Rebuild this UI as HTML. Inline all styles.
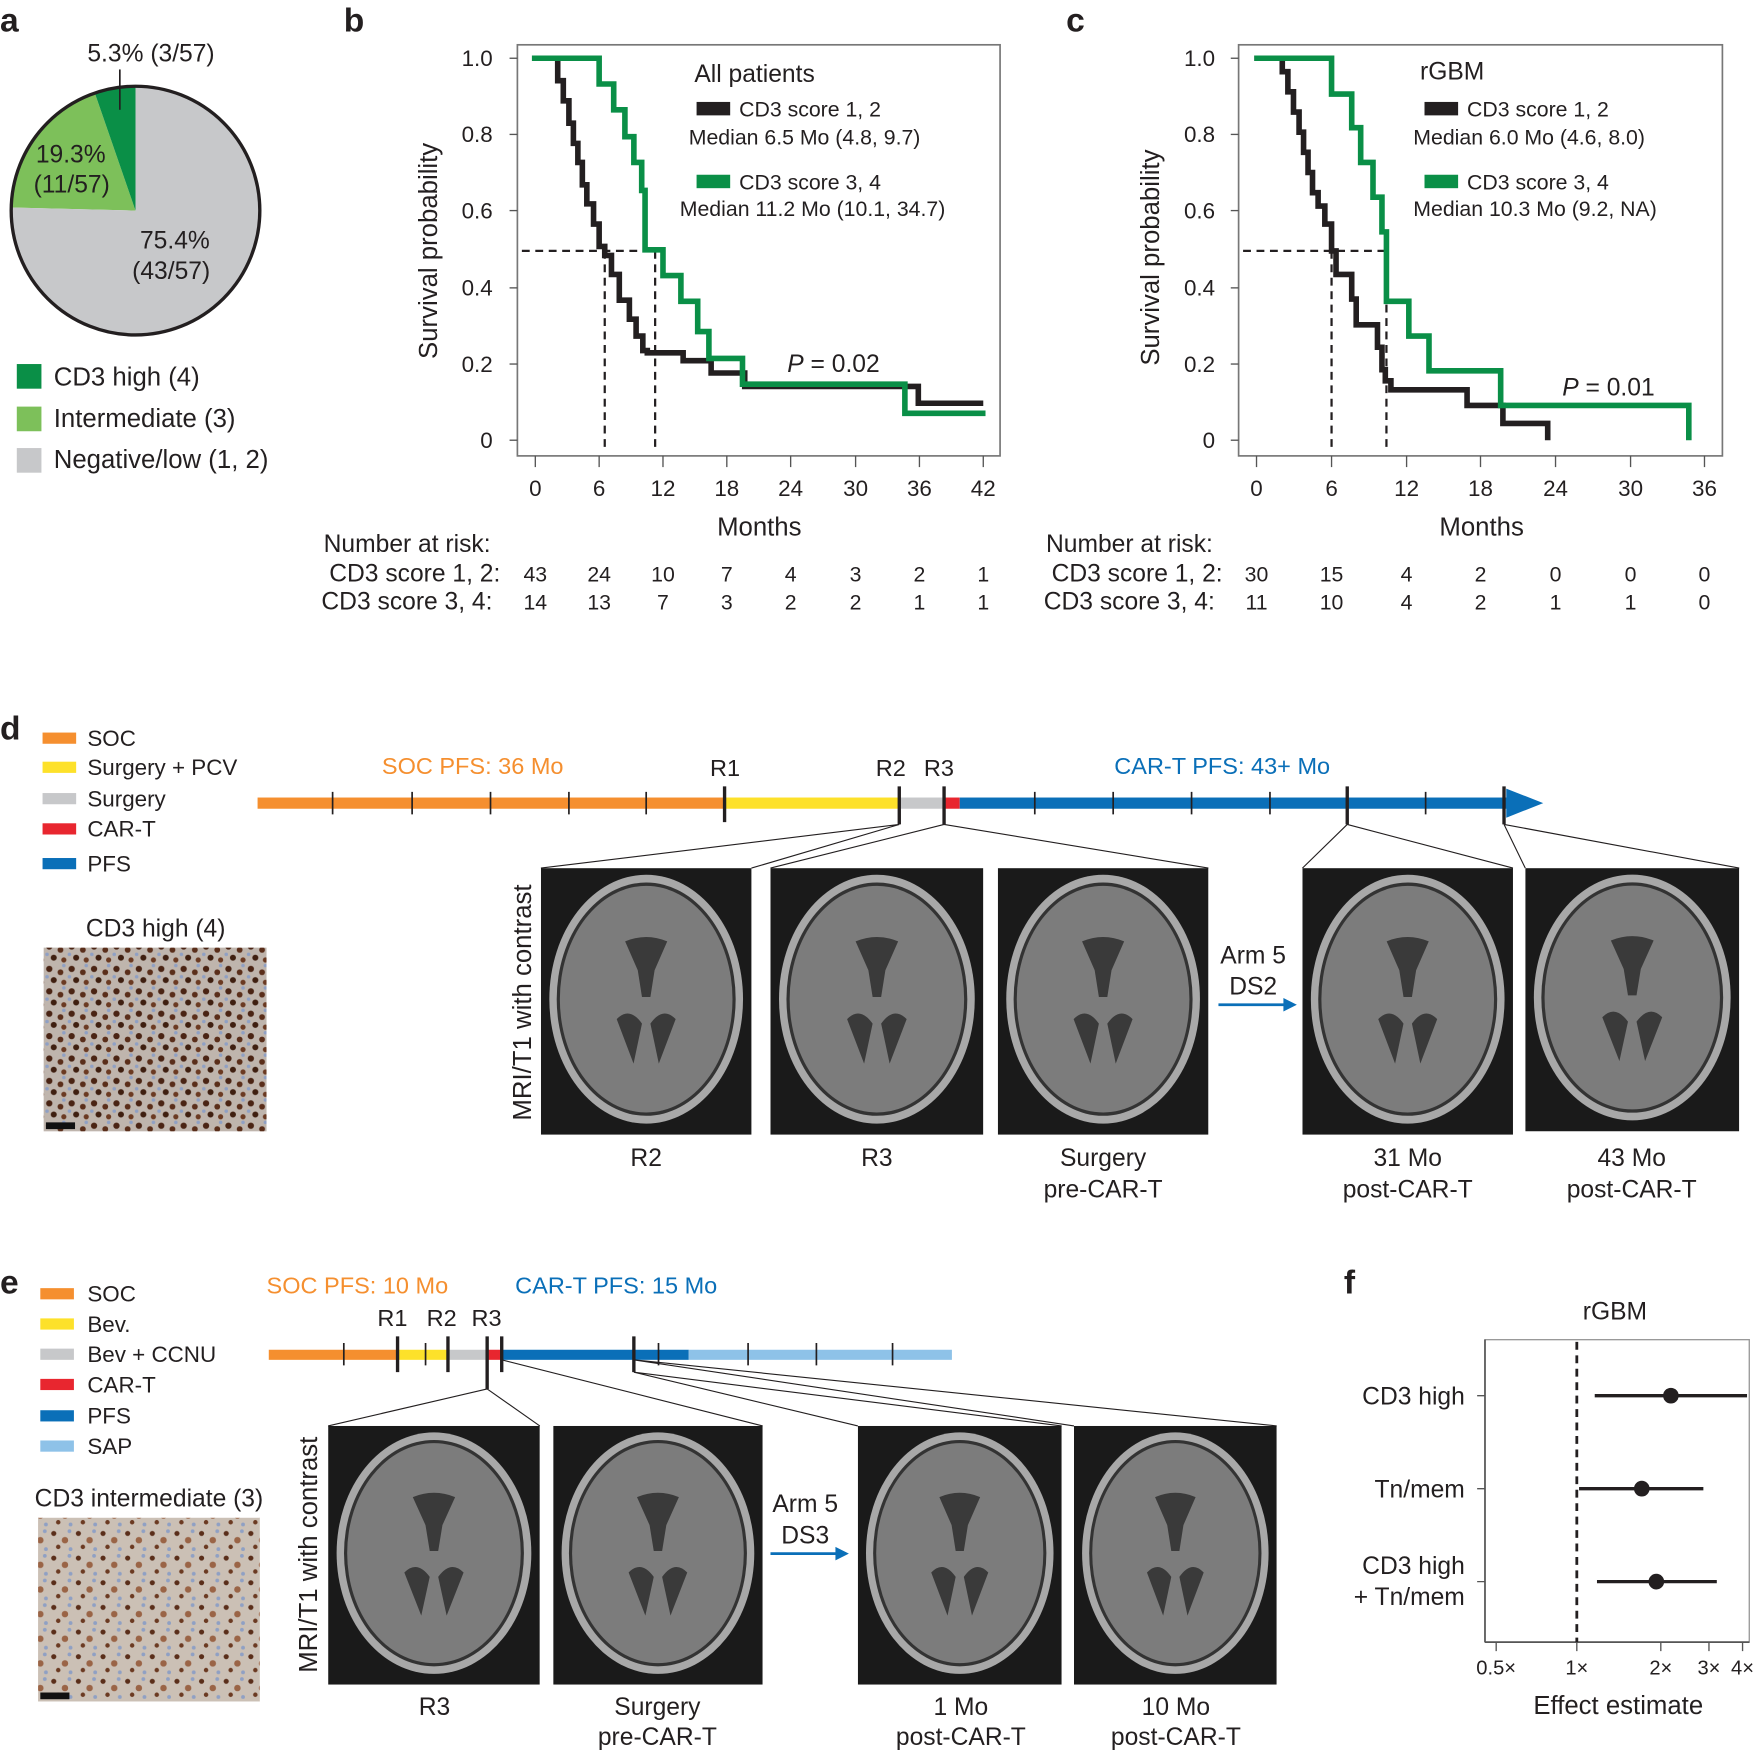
<!DOCTYPE html>
<html><head><meta charset="utf-8"><style>
html,body{margin:0;padding:0;background:#fff}
svg{display:block}
text{font-family:"Liberation Sans",sans-serif;fill:#231f20}
</style></head><body>
<svg width="1756" height="1753" viewBox="0 0 1568 1565" preserveAspectRatio="none" xmlns="http://www.w3.org/2000/svg">
<defs>
<symbol id="brain" viewBox="0 0 100 120" preserveAspectRatio="none">
<rect width="100" height="120" fill="#1a1a1a"/>
<ellipse cx="50" cy="59" rx="46" ry="56" fill="#a8a8a8"/>
<ellipse cx="50" cy="59" rx="42.5" ry="52.5" fill="#333"/>
<ellipse cx="50" cy="59" rx="41" ry="51" fill="#7c7c7c"/>
<path d="M40 33 Q50 29 60 33 L54 46 L52 58 L48 58 L46 46 Z" fill="#3a3a3a"/>
<path d="M36 68 Q42 62 48 70 L44 88 Z M64 68 Q58 62 52 70 L56 88 Z" fill="#3a3a3a"/>
</symbol>
<pattern id="histo" width="20" height="20" patternUnits="userSpaceOnUse">
<rect width="20" height="20" fill="#bfb5ad"/>
<circle cx="4" cy="5" r="2.8" fill="#4a2414"/><circle cx="14" cy="8" r="2.6" fill="#5a2e1a"/>
<circle cx="8" cy="15" r="2.7" fill="#3f1f10"/><circle cx="17" cy="17" r="2.3" fill="#6b3a22"/>
<circle cx="17" cy="2" r="1.6" fill="#8fa0c4"/><circle cx="2" cy="12" r="1.6" fill="#8fa0c4"/>
</pattern>
<pattern id="histo2" width="22" height="22" patternUnits="userSpaceOnUse">
<rect width="22" height="22" fill="#cbc0b5"/>
<circle cx="4" cy="5" r="2.3" fill="#5a2e1a"/><circle cx="14" cy="11" r="2.9" fill="#9a6446"/>
<circle cx="8" cy="17" r="2" fill="#6b3a22"/>
<circle cx="19" cy="19" r="1.7" fill="#8fa0c4"/><circle cx="18" cy="3" r="1.7" fill="#8fa0c4"/>
</pattern>
</defs>

<g font-weight="bold" font-size="30">
<text x="0" y="28">a</text><text x="307" y="28">b</text><text x="952" y="28">c</text>
<text x="0" y="660">d</text><text x="0" y="1155">e</text><text x="1200" y="1155">f</text>
</g>

<path d="M121 188 L10 185.3 A111 111 0 0 1 84.7 83.1 Z" fill="#7dc05a"/>
<path d="M121 188 L84.7 83.1 A111 111 0 0 1 121 77 Z" fill="#0a8f47"/>
<path d="M121 188 L121 77 A111 111 0 1 1 10 185.3 Z" fill="#c7c8ca"/>
<circle cx="121" cy="188" r="111" fill="none" stroke="#231f20" stroke-width="3"/>
<line x1="107" y1="62" x2="107" y2="98" stroke="#231f20" stroke-width="1.5"/>
<g font-size="22">
<text x="78" y="55">5.3% (3/57)</text>
<text x="32" y="145">19.3%</text><text x="30" y="172">(11/57)</text>
<text x="125" y="222">75.4%</text><text x="118" y="249">(43/57)</text>
</g>
<rect x="15" y="325" width="22" height="22" fill="#0a8f47"/>
<rect x="15" y="363" width="22" height="22" fill="#7dc05a"/>
<rect x="15" y="400" width="22" height="22" fill="#c7c8ca"/>
<g font-size="23"><text x="48" y="344">CD3 high (4)</text><text x="48" y="381">Intermediate (3)</text><text x="48" y="418">Negative/low (1, 2)</text></g>

<rect x="462" y="40" width="431" height="367" fill="none" stroke="#777" stroke-width="1.5"/>
<g stroke="#555" stroke-width="1.2">
<line x1="455" y1="52" x2="462" y2="52"/><line x1="455" y1="120" x2="462" y2="120"/><line x1="455" y1="188" x2="462" y2="188"/><line x1="455" y1="257" x2="462" y2="257"/><line x1="455" y1="325" x2="462" y2="325"/><line x1="455" y1="393" x2="462" y2="393"/>
<line x1="478" y1="407" x2="478" y2="417"/><line x1="535" y1="407" x2="535" y2="417"/><line x1="592" y1="407" x2="592" y2="417"/><line x1="649" y1="407" x2="649" y2="417"/><line x1="706" y1="407" x2="706" y2="417"/><line x1="764" y1="407" x2="764" y2="417"/><line x1="821" y1="407" x2="821" y2="417"/><line x1="878" y1="407" x2="878" y2="417"/>
</g>
<g font-size="20" text-anchor="end"><text x="440" y="59">1.0</text><text x="440" y="127">0.8</text><text x="440" y="195">0.6</text><text x="440" y="264">0.4</text><text x="440" y="332">0.2</text><text x="440" y="400">0</text></g>
<g font-size="20" text-anchor="middle"><text x="478" y="443">0</text><text x="535" y="443">6</text><text x="592" y="443">12</text><text x="649" y="443">18</text><text x="706" y="443">24</text><text x="764" y="443">30</text><text x="821" y="443">36</text><text x="878" y="443">42</text>
<text x="678" y="478" font-size="23">Months</text></g>
<text transform="translate(390 224) rotate(-90)" font-size="23" text-anchor="middle">Survival probability</text>
<path d="M466 224 H585 M540 224 V400 M585 224 V400" stroke="#231f20" stroke-width="2" stroke-dasharray="7 5" fill="none"/>
<path d="M475 52 H498 V72 H503 V90 H508 V110 H512 V128 H516 V145 H520 V165 H524 V182 H530 V200 H535 V220 H540 V228 H546 V245 H553 V268 H562 V285 H568 V300 H574 V313 H578 V315 H610 V322 H635 V333 H665 V345 H820 V360 H878" fill="none" stroke="#231f20" stroke-width="5"/>
<path d="M475 52 H535 V75 H548 V98 H558 V122 H566 V145 H573 V170 H576 V223 H592 V246 H608 V269 H623 V296 H633 V320 H663 V343 H808 V369 H880" fill="none" stroke="#0a8f47" stroke-width="5"/>
<g font-size="22"><text x="620" y="73">All patients</text></g>
<rect x="622" y="91" width="30" height="12" fill="#231f20"/><rect x="622" y="156" width="30" height="12" fill="#0a8f47"/>
<g font-size="19"><text x="660" y="104">CD3 score 1, 2</text><text x="615" y="129">Median 6.5 Mo (4.8, 9.7)</text><text x="660" y="169">CD3 score 3, 4</text><text x="607" y="193">Median 11.2 Mo (10.1, 34.7)</text></g>
<text x="703" y="332" font-size="22"><tspan font-style="italic">P</tspan> = 0.02</text>
<g font-size="22"><text x="289" y="493">Number at risk:</text><text x="294" y="519">CD3 score 1, 2:</text><text x="287" y="544">CD3 score 3, 4:</text></g>
<g font-size="19" text-anchor="middle">
<text x="478" y="519">43</text><text x="535" y="519">24</text><text x="592" y="519">10</text><text x="649" y="519">7</text><text x="706" y="519">4</text><text x="764" y="519">3</text><text x="821" y="519">2</text><text x="878" y="519">1</text>
<text x="478" y="544">14</text><text x="535" y="544">13</text><text x="592" y="544">7</text><text x="649" y="544">3</text><text x="706" y="544">2</text><text x="764" y="544">2</text><text x="821" y="544">1</text><text x="878" y="544">1</text>
</g>

<rect x="1106" y="40" width="432" height="367" fill="none" stroke="#777" stroke-width="1.5"/>
<g stroke="#555" stroke-width="1.2">
<line x1="1099" y1="52" x2="1106" y2="52"/><line x1="1099" y1="120" x2="1106" y2="120"/><line x1="1099" y1="188" x2="1106" y2="188"/><line x1="1099" y1="257" x2="1106" y2="257"/><line x1="1099" y1="325" x2="1106" y2="325"/><line x1="1099" y1="393" x2="1106" y2="393"/>
<line x1="1122" y1="407" x2="1122" y2="417"/><line x1="1189" y1="407" x2="1189" y2="417"/><line x1="1256" y1="407" x2="1256" y2="417"/><line x1="1322" y1="407" x2="1322" y2="417"/><line x1="1389" y1="407" x2="1389" y2="417"/><line x1="1456" y1="407" x2="1456" y2="417"/><line x1="1522" y1="407" x2="1522" y2="417"/>
</g>
<g font-size="20" text-anchor="end"><text x="1085" y="59">1.0</text><text x="1085" y="127">0.8</text><text x="1085" y="195">0.6</text><text x="1085" y="264">0.4</text><text x="1085" y="332">0.2</text><text x="1085" y="400">0</text></g>
<g font-size="20" text-anchor="middle"><text x="1122" y="443">0</text><text x="1189" y="443">6</text><text x="1256" y="443">12</text><text x="1322" y="443">18</text><text x="1389" y="443">24</text><text x="1456" y="443">30</text><text x="1522" y="443">36</text>
<text x="1323" y="478" font-size="23">Months</text></g>
<text transform="translate(1035 230) rotate(-90)" font-size="23" text-anchor="middle">Survival probability</text>
<path d="M1110 224 H1238 M1189 224 V400 M1238 224 V400" stroke="#231f20" stroke-width="2" stroke-dasharray="7 5" fill="none"/>
<path d="M1120 52 H1145 V64 H1150 V82 H1155 V100 H1160 V118 H1164 V136 H1168 V154 H1172 V172 H1177 V184 H1183 V200 H1189 V224 H1193 V245 H1200 V245 H1207 V267 H1211 V290 H1230 V310 H1234 V330 H1237 V340 H1242 V348 H1310 V362 H1342 V378 H1382 V393" fill="none" stroke="#231f20" stroke-width="5"/>
<path d="M1120 52 H1189 V84 H1207 V114 H1215 V145 H1226 V176 H1234 V207 H1238 V269 H1258 V300 H1276 V331 H1340 V362 H1508 V393" fill="none" stroke="#0a8f47" stroke-width="5"/>
<text x="1268" y="71" font-size="22">rGBM</text>
<rect x="1272" y="91" width="30" height="12" fill="#231f20"/><rect x="1272" y="156" width="30" height="12" fill="#0a8f47"/>
<g font-size="19"><text x="1310" y="104">CD3 score 1, 2</text><text x="1262" y="129">Median 6.0 Mo (4.6, 8.0)</text><text x="1310" y="169">CD3 score 3, 4</text><text x="1262" y="193">Median 10.3 Mo (9.2, NA)</text></g>
<text x="1395" y="353" font-size="22"><tspan font-style="italic">P</tspan> = 0.01</text>
<g font-size="22"><text x="934" y="493">Number at risk:</text><text x="939" y="519">CD3 score 1, 2:</text><text x="932" y="544">CD3 score 3, 4:</text></g>
<g font-size="19" text-anchor="middle">
<text x="1122" y="519">30</text><text x="1189" y="519">15</text><text x="1256" y="519">4</text><text x="1322" y="519">2</text><text x="1389" y="519">0</text><text x="1456" y="519">0</text><text x="1522" y="519">0</text>
<text x="1122" y="544">11</text><text x="1189" y="544">10</text><text x="1256" y="544">4</text><text x="1322" y="544">2</text><text x="1389" y="544">1</text><text x="1456" y="544">1</text><text x="1522" y="544">0</text>
</g>

<rect x="38" y="654" width="30" height="10" fill="#f58f2f"/><rect x="38" y="680" width="30" height="10" fill="#fde12a"/><rect x="38" y="708" width="30" height="10" fill="#c7c8ca"/><rect x="38" y="735" width="30" height="10" fill="#e8262f"/><rect x="38" y="766" width="30" height="10" fill="#0a6fb8"/>
<g font-size="20"><text x="78" y="666">SOC</text><text x="78" y="692">Surgery + PCV</text><text x="78" y="720">Surgery</text><text x="78" y="747">CAR-T</text><text x="78" y="778">PFS</text></g>
<text x="139" y="836" font-size="22" text-anchor="middle">CD3 high (4)</text>
<rect x="39" y="846" width="199" height="164" fill="url(#histo)"/>
<rect x="41" y="1002" width="26" height="6" fill="#111"/>
<rect x="230" y="712" width="417" height="10" fill="#f58f2f"/>
<rect x="647" y="712" width="156" height="10" fill="#fde12a"/>
<rect x="803" y="712" width="40" height="10" fill="#c7c8ca"/>
<rect x="843" y="712" width="14" height="10" fill="#e8262f"/>
<rect x="857" y="712" width="490" height="10" fill="#0a6fb8"/>
<path d="M1345 704 L1378 717 L1345 730 Z" fill="#0a6fb8"/>
<g stroke="#231f20" stroke-width="1.5"><path d="M297 707V727M368 707V727M438 707V727M508 707V727M577 707V727M924 707V727M994 707V727M1064 707V727M1134 707V727M1273 707V727"/></g>
<g stroke="#231f20" stroke-width="3"><path d="M647 702V734M803 702V736M843 702V736M1203 702V736M1343 702V736"/></g>
<g font-size="21"><text x="341" y="691" style="fill:#f58f2f">SOC PFS: 36 Mo</text><text x="634" y="693">R1</text><text x="782" y="693">R2</text><text x="825" y="693">R3</text><text x="995" y="691" style="fill:#0a6fb8">CAR-T PFS: 43+ Mo</text></g>
<g stroke="#231f20" stroke-width="1"><path d="M803 736 L483 775 M803 736 L671 775 M843 736 L688 775 M843 736 L1079 775 M1203 736 L1163 775 M1203 736 L1351 775 M1343 736 L1362 775 M1343 736 L1553 775"/></g>
<use href="#brain" x="483" y="775" width="188" height="238"/>
<use href="#brain" x="688" y="775" width="190" height="238"/>
<use href="#brain" x="891" y="775" width="188" height="238"/>
<use href="#brain" x="1163" y="775" width="188" height="238"/>
<use href="#brain" x="1362" y="775" width="191" height="235"/>
<text transform="translate(474 895) rotate(-90)" font-size="23" text-anchor="middle">MRI/T1 with contrast</text>
<g font-size="22" text-anchor="middle"><text x="577" y="1041">R2</text><text x="783" y="1041">R3</text><text x="985" y="1041">Surgery</text><text x="985" y="1069">pre-CAR-T</text><text x="1257" y="1041">31 Mo</text><text x="1257" y="1069">post-CAR-T</text><text x="1457" y="1041">43 Mo</text><text x="1457" y="1069">post-CAR-T</text>
<text x="1119" y="860">Arm 5</text><text x="1119" y="888">DS2</text></g>
<line x1="1088" y1="897" x2="1148" y2="897" stroke="#0a6fb8" stroke-width="2.5"/><path d="M1146 891 L1158 897 L1146 903Z" fill="#0a6fb8"/>

<rect x="36" y="1150" width="30" height="10" fill="#f58f2f"/><rect x="36" y="1177" width="30" height="10" fill="#fde12a"/><rect x="36" y="1204" width="30" height="10" fill="#c7c8ca"/><rect x="36" y="1231" width="30" height="10" fill="#e8262f"/><rect x="36" y="1259" width="30" height="10" fill="#0a6fb8"/><rect x="36" y="1286" width="30" height="10" fill="#8ec2e8"/>
<g font-size="20"><text x="78" y="1162">SOC</text><text x="78" y="1189">Bev.</text><text x="78" y="1216">Bev + CCNU</text><text x="78" y="1243">CAR-T</text><text x="78" y="1271">PFS</text><text x="78" y="1298">SAP</text></g>
<text x="133" y="1345" font-size="22" text-anchor="middle">CD3 intermediate (3)</text>
<rect x="34" y="1355" width="198" height="164" fill="url(#histo2)"/>
<rect x="36" y="1511" width="26" height="6" fill="#111"/>
<rect x="240" y="1205" width="115" height="9" fill="#f58f2f"/>
<rect x="355" y="1205" width="45" height="9" fill="#fde12a"/>
<rect x="400" y="1205" width="35" height="9" fill="#c7c8ca"/>
<rect x="435" y="1205" width="13" height="9" fill="#e8262f"/>
<rect x="448" y="1205" width="167" height="9" fill="#0a6fb8"/>
<rect x="615" y="1205" width="235" height="9" fill="#8ec2e8"/>
<g stroke="#231f20" stroke-width="1.5"><path d="M307 1199V1219M380 1199V1219M588 1199V1219M668 1199V1219M729 1199V1219M797 1199V1219"/></g>
<g stroke="#231f20" stroke-width="3"><path d="M355 1193V1225M400 1193V1225M435 1193V1240M448 1193V1225M566 1193V1225"/></g>
<g font-size="21"><text x="238" y="1155" style="fill:#f58f2f">SOC PFS: 10 Mo</text><text x="460" y="1155" style="fill:#0a6fb8">CAR-T PFS: 15 Mo</text><text x="337" y="1184">R1</text><text x="381" y="1184">R2</text><text x="421" y="1184">R3</text></g>
<g stroke="#231f20" stroke-width="1"><path d="M435 1240 L293 1273 M435 1240 L482 1273 M448 1214 L681 1273 M566 1225 L766 1273 M566 1225 L948 1273 M566 1214 L959 1273 M566 1214 L1140 1273"/></g>
<use href="#brain" x="293" y="1273" width="189" height="231"/>
<use href="#brain" x="494" y="1273" width="187" height="231"/>
<use href="#brain" x="766" y="1273" width="182" height="231"/>
<use href="#brain" x="959" y="1273" width="181" height="231"/>
<text transform="translate(283 1388) rotate(-90)" font-size="23" text-anchor="middle">MRI/T1 with contrast</text>
<g font-size="22" text-anchor="middle"><text x="388" y="1531">R3</text><text x="587" y="1531">Surgery</text><text x="587" y="1558">pre-CAR-T</text><text x="858" y="1531">1 Mo</text><text x="858" y="1558">post-CAR-T</text><text x="1050" y="1531">10 Mo</text><text x="1050" y="1558">post-CAR-T</text>
<text x="719" y="1350">Arm 5</text><text x="719" y="1378">DS3</text></g>
<line x1="688" y1="1387" x2="748" y2="1387" stroke="#0a6fb8" stroke-width="2.5"/><path d="M746 1381 L758 1387 L746 1393Z" fill="#0a6fb8"/>

<text x="1442" y="1178" font-size="22" text-anchor="middle">rGBM</text>
<rect x="1326" y="1196" width="236" height="270" fill="none" stroke="#999" stroke-width="1.2"/>
<line x1="1326" y1="1196" x2="1326" y2="1466" stroke="#555" stroke-width="1.5"/>
<line x1="1326" y1="1466" x2="1562" y2="1466" stroke="#555" stroke-width="1.5"/>
<g stroke="#555" stroke-width="1.2"><path d="M1319 1246H1326M1319 1329H1326M1319 1412H1326M1336 1466V1474M1408 1466V1474M1483 1466V1474M1526 1466V1474M1556 1466V1474"/></g>
<line x1="1408" y1="1198" x2="1408" y2="1466" stroke="#231f20" stroke-width="2.5" stroke-dasharray="7 5"/>
<g stroke="#231f20" stroke-width="3"><path d="M1424 1246H1560M1410 1329H1521M1426 1412H1533"/></g>
<circle cx="1492" cy="1246" r="7" fill="#231f20"/><circle cx="1466" cy="1329" r="7" fill="#231f20"/><circle cx="1479" cy="1412" r="7" fill="#231f20"/>
<g font-size="22" text-anchor="end"><text x="1308" y="1254">CD3 high</text><text x="1308" y="1337">Tn/mem</text><text x="1308" y="1405">CD3 high</text><text x="1308" y="1433">+ Tn/mem</text></g>
<g font-size="18" text-anchor="middle"><text x="1336" y="1495">0.5×</text><text x="1408" y="1495">1×</text><text x="1483" y="1495">2×</text><text x="1526" y="1495">3×</text><text x="1556" y="1495">4×</text></g>
<text x="1445" y="1530" font-size="23" text-anchor="middle">Effect estimate</text>
</svg>
</body></html>
